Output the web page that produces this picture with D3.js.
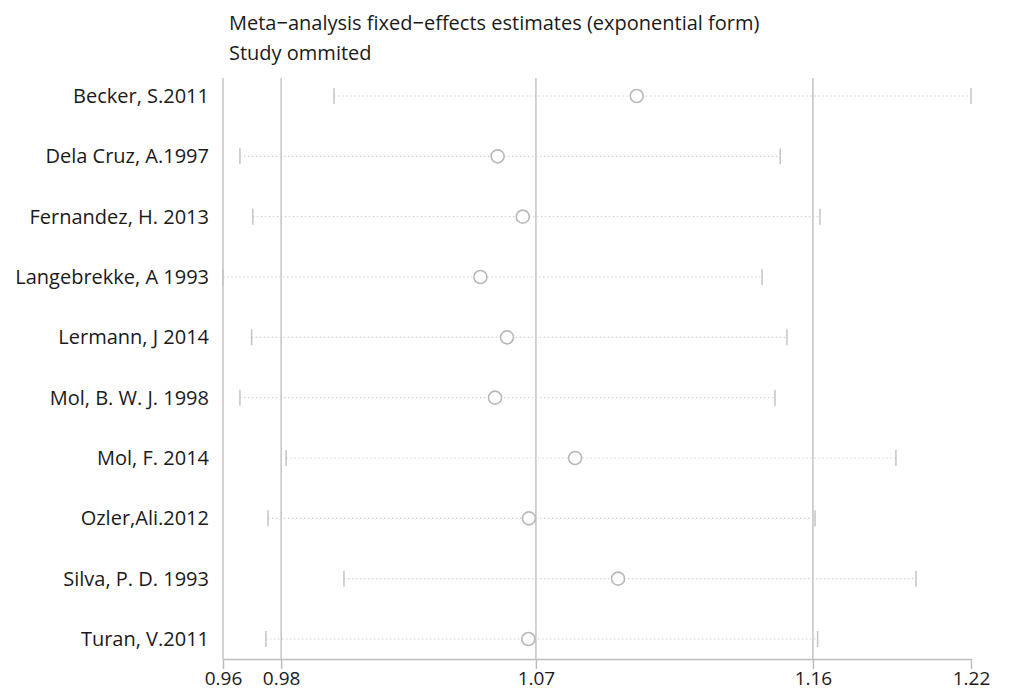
<!DOCTYPE html>
<html>
<head>
<meta charset="utf-8">
<script src="https://cdn.jsdelivr.net/npm/d3@7"></script>
<style>
  html, body { margin: 0; padding: 0; background: #fff; }
  svg { display: block; }
  text { font-family: "Open Sans", "Noto Sans", sans-serif; fill: #1a1a1a; }
</style>
</head>
<body>
<div id="chart"></div>
<script>
// ---- data ----
const studies = [
  "Becker, S.2011", "Dela Cruz, A.1997", "Fernandez, H. 2013", "Langebrekke, A 1993",
  "Lermann, J 2014", "Mol, B. W. J. 1998", "Mol, F. 2014", "Ozler,Ali.2012",
  "Silva, P. D. 1993", "Turan, V.2011"
];
const estimate = [1.1026, 1.0550, 1.0636, 1.0491, 1.0582, 1.0541, 1.0815, 1.0657, 1.0962, 1.0655];
const lowerCI  = [0.9990, 0.9668, 0.9712, 0.9610, 0.9708, 0.9668, 0.9826, 0.9764, 1.0024, 0.9757];
const upperCI  = [1.2170, 1.1517, 1.1653, 1.1455, 1.1540, 1.1499, 1.1913, 1.1636, 1.1982, 1.1645];
// axis ticks: min lower, overall lower, overall estimate, overall upper, max upper
const tickValues = [0.9610, 0.9809, 1.0681, 1.1629, 1.2170];
const gridValues = [0.9809, 1.0681, 1.1629];
const titleLines = ["Meta\u2212analysis fixed\u2212effects estimates (exponential form)", "Study ommited"];

// ---- layout ----
const W = 1014, H = 694;
const svg = d3.select("#chart").append("svg").attr("width", W).attr("height", H);

const x = d3.scaleLinear().domain([d3.min(lowerCI), d3.max(upperCI)]).range([223, 971]);
const y = d3.scalePoint().domain(studies).range([96, 639]);
const plotTop = 78, axisY = 659;

// title
svg.selectAll("text.title").data(titleLines).enter().append("text")
  .attr("class", "title")
  .attr("x", 229).attr("y", (d, i) => 30 + i * 30)
  .style("font-size", "20px")
  .text(d => d);

// left plot boundary
svg.append("line")
  .attr("x1", x(tickValues[0])).attr("x2", x(tickValues[0]))
  .attr("y1", plotTop).attr("y2", axisY)
  .attr("stroke", "#c4c4c4").attr("stroke-width", 1.5);

// vertical reference lines
svg.selectAll("line.grid").data(gridValues).enter().append("line")
  .attr("class", "grid")
  .attr("x1", d => x(d)).attr("x2", d => x(d))
  .attr("y1", plotTop).attr("y2", axisY)
  .attr("stroke", "#c4c4c4").attr("stroke-width", 1.5);

// x axis
const xAxis = d3.axisBottom(x).tickValues(tickValues).tickFormat(d3.format(".2f"))
  .tickSizeInner(10).tickSizeOuter(0).tickPadding(3);
const gx = svg.append("g").attr("transform", `translate(0,${axisY})`).call(xAxis);
gx.select(".domain").attr("stroke", "#bdbdbd").attr("stroke-width", 1.5);
gx.selectAll(".tick line").attr("stroke", "#bdbdbd").attr("stroke-width", 1.5);
gx.selectAll(".tick text")
  .style("font-size", "19px")
  .style("font-family", "'Open Sans', 'Noto Sans', sans-serif")
  .attr("fill", "#1a1a1a");

// study labels
svg.selectAll("text.study").data(studies).enter().append("text")
  .attr("class", "study")
  .attr("x", 209).attr("y", d => y(d))
  .attr("dy", "0.35em")
  .attr("text-anchor", "end")
  .style("font-size", "20px")
  .text(d => d);

const rows = studies.map((s, i) => ({ s, est: estimate[i], lo: lowerCI[i], hi: upperCI[i] }));

// dotted CI lines
svg.selectAll("line.ci").data(rows).enter().append("line")
  .attr("class", "ci")
  .attr("x1", d => x(d.lo)).attr("x2", d => x(d.hi))
  .attr("y1", d => y(d.s)).attr("y2", d => y(d.s))
  .attr("stroke", "#d2d2d2").attr("stroke-width", 1.2)
  .attr("stroke-dasharray", "1.5,2.5");

// caps
["lo", "hi"].forEach(k => {
  svg.selectAll("line.cap-" + k).data(rows).enter().append("line")
    .attr("class", "cap-" + k)
    .attr("x1", d => x(d[k])).attr("x2", d => x(d[k]))
    .attr("y1", d => y(d.s) - 8).attr("y2", d => y(d.s) + 8)
    .attr("stroke", "#c4c4c4").attr("stroke-width", 1.5);
});

// estimate circles
svg.selectAll("circle.est").data(rows).enter().append("circle")
  .attr("class", "est")
  .attr("cx", d => x(d.est)).attr("cy", d => y(d.s))
  .attr("r", 6.5)
  .attr("fill", "#fff").attr("stroke", "#b8b8b8").attr("stroke-width", 1.6);
</script>
</body>
</html>
